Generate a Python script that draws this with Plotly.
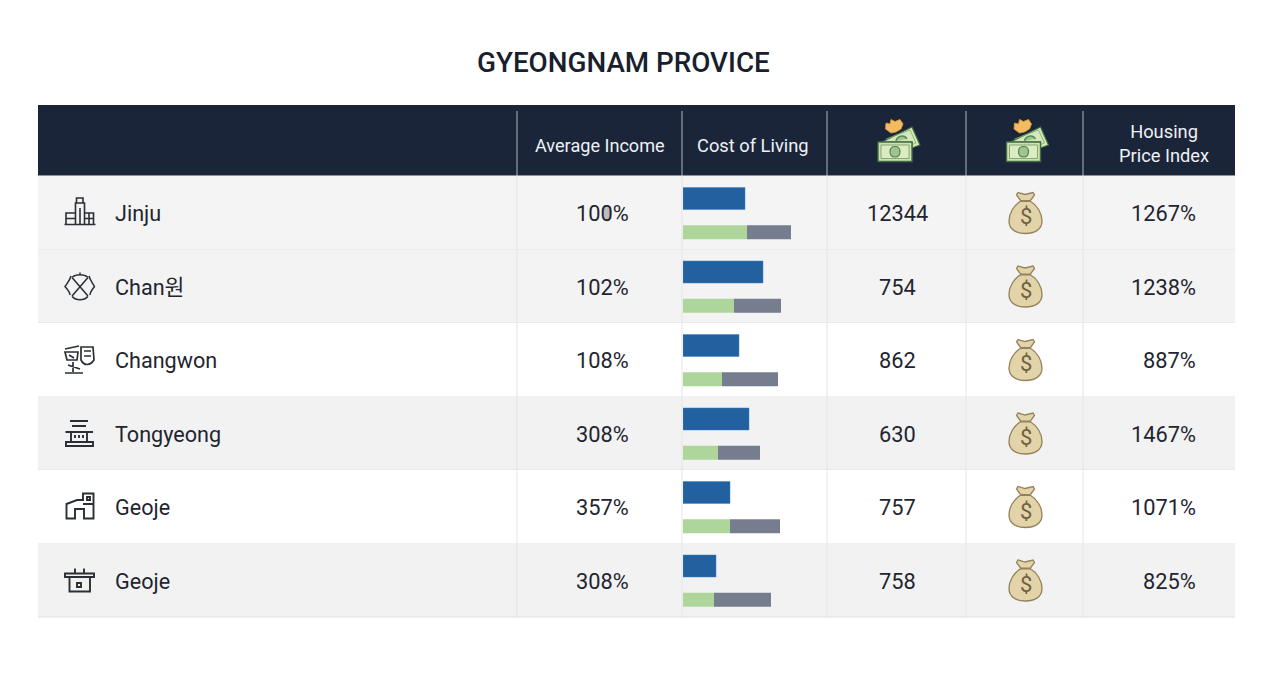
import re

import plotly.graph_objects as go

W, H = 1280, 698

# 表格数据
cities = ["Jinju", "Chan원", "Changwon", "Tongyeong", "Geoje", "Geoje"]
avg_income = ["100%", "102%", "108%", "308%", "357%", "308%"]
col_values = ["12344", "754", "862", "630", "757", "758"]
housing = ["1267%", "1238%", "887%", "1467%", "1071%", "825%"]

# 条形图数据（Cost of Living 列内）
rows = [0, 1, 2, 3, 4, 5]
blue_vals = [62, 80, 56, 66, 47, 33]
green_vals = [64, 51, 39, 35, 47, 31]
gray_vals = [44, 47, 56, 42, 50, 57]

row_tops = [176, 250, 323, 397, 470, 544, 617]
row_fills = ["#f4f4f4", "#f3f3f3", "#ffffff", "#f2f2f2", "#ffffff", "#f2f2f2"]
col_lines = [517, 682, 827, 966, 1083]

FONT = "Roboto, 'Noto Sans CJK KR', sans-serif"
INK = "#1f2530"
ICON = "#2a2e35"


def px(x):
    return x / W


def py(y):
    return 1 - y / H


def to_paper(path, dx=0, dy=0):
    """像素坐标路径 -> paper 坐标路径"""
    def conv(m):
        return f"{px(float(m.group(1)) + dx):.5f},{py(float(m.group(2)) + dy):.5f}"
    return re.sub(r"(-?[\d.]+),(-?[\d.]+)", conv, path)


shapes = []


def rect(x0, y0, x1, y1, fill, layer="below"):
    shapes.append(dict(type="rect", xref="paper", yref="paper",
                       x0=px(x0), x1=px(x1), y0=py(y0), y1=py(y1),
                       fillcolor=fill, line_width=0, layer=layer))


def hvline(x0, y0, x1, y1, color, width=1, layer="below"):
    shapes.append(dict(type="line", xref="paper", yref="paper",
                       x0=px(x0), x1=px(x1), y0=py(y0), y1=py(y1),
                       line=dict(color=color, width=width), layer=layer))


def icon(path, dx=0, dy=0, stroke=ICON, width=1.6, fill=None):
    s = dict(type="path", xref="paper", yref="paper", path=to_paper(path, dx, dy),
             line=dict(color=stroke, width=width), layer="above")
    if fill:
        s["fillcolor"] = fill
    shapes.append(s)


# 背景
rect(38, 105, 1235, 175.5, "#1b2539")
for i, fill in enumerate(row_fills):
    rect(38, max(row_tops[i], 175.5), 1235, row_tops[i + 1], fill)
    hvline(38, row_tops[i + 1], 1235, row_tops[i + 1], "#e2e2e2", 1.2)
for x in col_lines:
    hvline(x, 111, x, 175.5, "#aeb6c4", 1)
    hvline(x, 175.5, x, 617, "#e5e5e5", 1)

# 城市线条图标
icon("M64.5,224.5 L95.5,224.5 M76.5,203 L76.5,198 L83,198 L83,203 M75.5,224 L75.5,203 L84.5,203 L84.5,224 "
     "M80,208 L80,224 M75.5,213 L66,213 L66,224 M66,218.5 L75.5,218.5 M84.5,213 L93.5,213 L93.5,224 "
     "M84.5,218.5 L93.5,218.5 M89,213 L89,224")
icon("M72,277.5 L88,296 M88,277.5 L72,296 M72,277.5 C76,274 84,274 88,277.5 "
     "M71,276 C70,280 68,282 65,286.5 C68,290 70,292 70,295 M89,276 C90,280 92,282 94.5,286.5 C92,290 90,292 90,295 "
     "M72,296 C75,301 85,301 88,296 M80,272.5 L80,275", width=1.5)
icon("M65,349 L79,346 M65,352 L78,352 L77,360 L67,360 Z M69,355 L74,358 M81,347 L93,347 L94,360 "
     "C90,366 84,366 81,360 Z M84,351 L91,351 M84,356 L91,356 M73,362 L73,372 M65,373 L83,373 "
     "M68,365 L80,369", width=1.7)
icon("M70,421 L88,421 M72,426 L86,426 M65.5,432 L93,432 M71,432 L71,442 M87,432 L87,442 "
     "M75,435 L75,438 M79,435 L79,438 M83,435 L83,438 M66,442 L93,442 L93,446 L66,446 Z", width=1.9)
icon("M66.5,518.5 L66.5,504 L77,500 L83,500 L83,493.5 L93.5,493.5 L93.5,518.5 L84,518.5 L84,509 L75,509 "
     "L75,518.5 Z M83,504 L93.5,504 M87,497 L90,497 L90,500 L87,500 Z", width=1.9)
icon("M65,573.5 L94,573.5 L94,577 L65,577 Z M69.5,577 L69.5,591.5 L90,591.5 L90,577 M75,568.5 L75,573.5 "
     "M84,568.5 L84,573.5 M77,583 L81,583 L81,587 L77,587 Z", width=1.9)

# 表头钞票图标
for dx in (0, 128.5):
    icon("M882,142 L912,127 L920,145 L912,148 L912,142 Z", dx=dx, stroke="#3f6b45", width=1.2, fill="#d5e8b8")
    icon("M886,139 L910,130 L916,143 L911,145", dx=dx, stroke="#7fa873", width=0.8)
    icon("M896,141 C897,136 904,134 907,139", dx=dx, stroke="#5a8a60", width=1.4, fill="#9fc48e")
    icon("M878,142 L912,142 L912,161.5 L878,161.5 Z", dx=dx, stroke="#3f6b45", width=1.4, fill="#cde2ad")
    icon("M881,145 L909,145 L909,158.5 L881,158.5 Z", dx=dx, stroke="#6e9a63", width=0.8, fill="#dcecc2")
    icon("M895,146.5 C899,146.5 900,149 900,151.5 C900,154 899,157 895,157 C891,157 890,154 890,151.5 "
         "C890,149 891,146.5 895,146.5 Z", dx=dx, stroke="#55815a", width=1.2, fill="#9fc48e")
    icon("M886,123 L890,124 L891,119.5 L895,121.5 L900,119.5 L903,124 L901,129 L896,132 L891,133 L885.5,129 Z",
         dx=dx, stroke="#d99a3a", width=0.8, fill="#f2bd62")

# 钱袋图标
BAG = ("M1018,192.5 L1025,194.5 L1033,192.5 L1034.5,195 L1030,201 C1037,205 1042,213 1042,221 "
       "C1042,230 1034,233.5 1025.5,233.5 C1017,233.5 1009,230 1009,221 C1009,213 1014,205 1021,201 "
       "L1016.5,195 Z")
TIE = "M1020.5,201 L1030.5,201"
annotations = []
for i in rows:
    dy = (row_tops[i] + row_tops[i + 1]) / 2 - 213
    icon(BAG, dy=dy, stroke="#93825c", width=1.3, fill="#e3d3a9")
    icon(TIE, dy=dy, stroke="#93825c", width=2)
    annotations.append(dict(x=px(1025.5), y=py(217 + dy), text="$", showarrow=False, xref="paper", yref="paper",
                            font=dict(family=FONT, size=22, color="#6f6243"), xanchor="center", yanchor="middle"))

# 第一行 100% 数字上的污迹
icon("M604,207 C605,205.5 610,205.5 611,207 L610.5,219 C609.5,222 605.5,222 604.5,219 Z",
     stroke="#b5b5b5", width=0.5, fill="#bdbdbd")


def label(x, y, text, size=22, color=INK, anchor="center", weight=None):
    font = dict(family=FONT, size=size, color=color)
    if weight:
        font["weight"] = weight
    annotations.append(dict(x=px(x), y=py(y), text=text, showarrow=False, xref="paper", yref="paper",
                            font=font, xanchor=anchor, yanchor="middle", align="center"))


label(623.5, 62, "GYEONGNAM PROVICE", size=27.8, color="#18202e", weight=500)
label(600, 145, "Average Income", size=18.1, color="#eef1f5")
label(753, 145, "Cost of Living", size=18.3, color="#eef1f5")
label(1163.5, 143, "Housing<br>Price Index", size=18.3, color="#eef1f5")

for i in rows:
    yc = (row_tops[i] + row_tops[i + 1]) / 2 + 0.7
    label(113, yc, cities[i], size=21.6, anchor="left")
    label(602, yc, avg_income[i], size=21.8)
    label(897, yc, col_values[i], size=21.8)
    label(1198, yc, housing[i], size=21.8, anchor="right")

fig = go.Figure()
fig.add_trace(go.Bar(y=rows, x=blue_vals, orientation="h", offset=0.156, width=0.30,
                     marker=dict(color="#2360a0", line=dict(color="#3f85c7", width=0.5))))
fig.add_trace(go.Bar(y=rows, x=green_vals, orientation="h", offset=0.67, width=0.19,
                     marker=dict(color="#aed69a", line_width=0)))
fig.add_trace(go.Bar(y=rows, x=gray_vals, base=green_vals, orientation="h", offset=0.67, width=0.19,
                     marker=dict(color="#767d8e", line_width=0)))

fig.update_layout(
    width=W,
    height=H,
    margin=dict(l=0, r=0, t=0, b=0),
    paper_bgcolor="white",
    plot_bgcolor="rgba(0,0,0,0)",
    barmode="overlay",
    showlegend=False,
    shapes=shapes,
    annotations=annotations,
    # 坐标轴只覆盖 Cost of Living 列，1 单位 = 1 像素
    xaxis=dict(domain=[px(683), px(827)], range=[0, 144], visible=False, fixedrange=True),
    yaxis=dict(domain=[py(617), py(176)], range=[6, 0], visible=False, fixedrange=True),
)

fig.write_html("out.html", post_script="document.body.style.margin='0';", config={"displayModeBar": False})
